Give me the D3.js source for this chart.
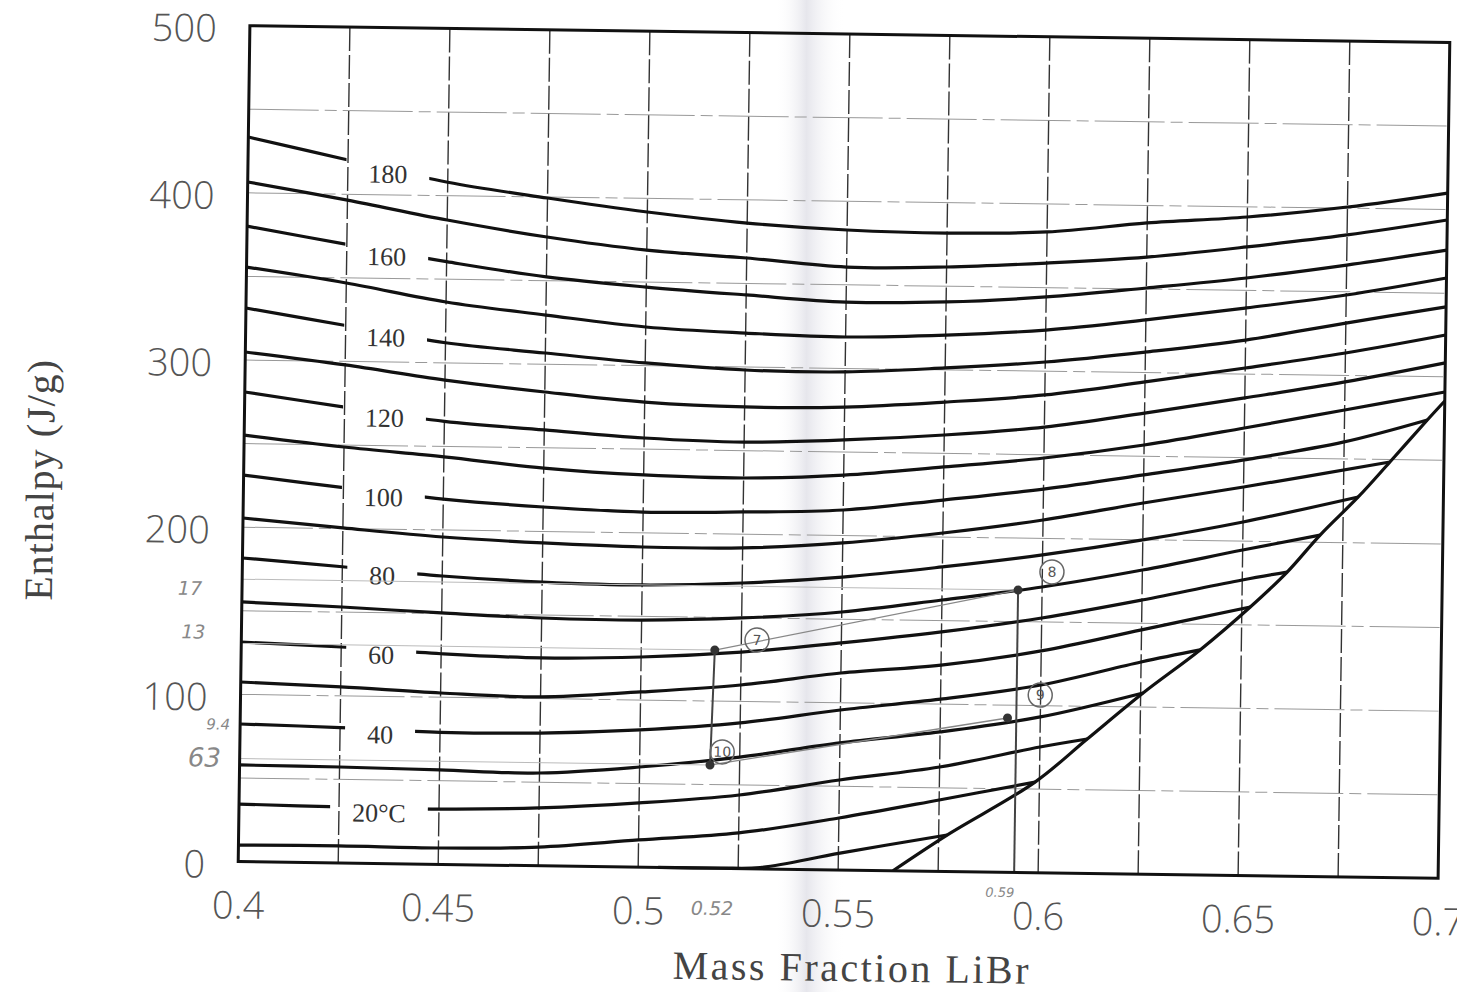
<!DOCTYPE html>
<html>
<head>
<meta charset="utf-8">
<script src="https://cdn.jsdelivr.net/npm/d3@7"></script>
<style>
  body { margin: 0; background: #fff; }
  svg { display: block; }
</style>
</head>
<body>
<div id="chart"></div>
<script>
// mass fraction grid (one value per vertical grid line)
const massFraction = [0.4, 0.425, 0.45, 0.475, 0.5, 0.525, 0.55, 0.575, 0.6, 0.625, 0.65, 0.675, 0.7];

// isotherms in degC, enthalpy J/g read at each mass fraction (null = past crystallization line)
const isoTemps = [180, 170, 160, 150, 140, 130, 120, 110, 100, 90, 80, 70, 60, 50, 40, 30, 20, 10];
const isoEnthalpy = [
  [433.4, 420.5, 408.0, 399.4, 391.9, 386.1, 382.8, 381.8, 383.3, 389.5, 393.9, 400.7, 409.9],
  [406.5, 396.5, 385.4, 376.1, 369.1, 365.2, 360.6, 361.5, 364.7, 369.1, 376.0, 384.0, 393.8],
  [380.1, 370.0, 360.5, 352.2, 347.0, 343.1, 339.7, 340.6, 344.4, 350.6, 357.4, 366.0, 375.8],
  [355.6, 346.9, 336.4, 329.4, 323.1, 320.3, 318.8, 320.8, 324.6, 331.5, 339.5, 348.1, 359.1],
  [331.1, 321.5, 312.0, 306.7, 301.6, 298.2, 297.9, 301.1, 305.5, 312.3, 320.3, 331.3, 341.8],
  [304.8, 297.9, 289.7, 283.4, 278.2, 276.1, 276.9, 280.7, 285.8, 294.4, 303.6, 313.4, 325.0],
  [280.9, 272.7, 265.0, 260.7, 256.7, 255.1, 257.2, 261.0, 266.6, 275.8, 285.7, 296.1, 308.3],
  [255.1, 248.8, 243.7, 237.9, 234.6, 233.6, 236.2, 241.9, 248.1, 256.7, 267.7, 279.3, 290.9],
  [231.2, 224.5, 218.5, 214.6, 212.4, 213.3, 215.3, 222.1, 229.5, 238.8, 248.6, 260.2, null],
  [205.5, 200.4, 195.8, 193.1, 191.5, 191.8, 195.6, 202.4, 211.0, 222.0, 232.4, null, null],
  [181.6, 177.2, 172.5, 169.7, 168.8, 170.8, 175.2, 182.1, 190.1, 199.9, 211.5, null, null],
  [155.3, 153.1, 150.4, 148.2, 147.8, 149.9, 154.3, 162.3, 170.9, 181.9, 194.7, null, null],
  [131.3, 129.2, 126.0, 124.3, 125.7, 129.5, 135.8, 143.2, 152.4, 164.0, 176.8, null, null],
  [107.4, 105.3, 102.5, 101.0, 104.8, 109.8, 117.8, 123.4, 132.7, 146.1, null, null, null],
  [82.3, 81.0, 79.0, 79.4, 82.1, 87.1, 95.7, 103.0, 112.3, 126.9, null, null, null],
  [57.8, 57.4, 56.5, 55.5, 59.9, 66.7, 76.0, 83.4, 93.2, null, null, null, null],
  [34.4, 33.5, 33.1, 34.6, 38.4, 44.0, 53.8, 62.4, 75.2, null, null, null, null],
  [9.9, 10.2, 9.8, 11.2, 16.3, 21.3, 31.1, 42.7, null, null, null, null, null]
];

// lowest isotherm (0 degC), rising off the axis
const zeroX = [0.505, 0.5205, 0.5305, 0.5504];
const zeroH = [0, 0.2, 0.8, 10.1];

// crystallization line; point k+1 is where the (10*k) degC isotherm ends
const crystalX = [0.5637, 0.5771, 0.5989, 0.6118, 0.6256, 0.6397, 0.6521, 0.6612, 0.6693, 0.6787, 0.6865, 0.6957, 0.7];
const crystalH = [0, 21.8, 54.2, 80.4, 108.4, 134.6, 160.7, 181.9, 204.3, 227.4, 248.6, 274.0, 285.5];

// labelled isotherms
const labelTemps = [180, 160, 140, 120, 100, 80, 60, 40, 20];
const labelTexts = ["180", "160", "140", "120", "100", "80", "60", "40", "20\u00B0C"];
const labelX = 0.435;

// axes
const xTicks = [0.4, 0.45, 0.5, 0.55, 0.6, 0.65, 0.7];
const yTicks = [0, 100, 200, 300, 400, 500];
const xGrid = [0.425, 0.45, 0.475, 0.5, 0.525, 0.55, 0.575, 0.6, 0.625, 0.65, 0.675];
const yGrid = [50, 100, 150, 200, 250, 300, 350, 400, 450];

// hand-drawn cycle points (7, 8, 9, 10) and notes
const pointX = [0.5184, 0.594, 0.5918, 0.5176];
const pointH = [130.5, 168.9, 92.3, 61.7];
const circleTexts = ["7", "8", "9", "10"];
const circleX = [0.5289, 0.6024, 0.5999, 0.5206];
const circleH = [136.8, 180.0, 106.3, 69.6];
const noteTexts = ["17", "13", "9.4", "63", "0.52", "0.59"];
const noteX = [0.387, 0.388, 0.3945, 0.3912, 0.5186, 0.5905];
const noteH = [163, 137, 82, 62, -24, -12];

// ---------------------------------------------------------------
const W = 1457, H = 992;
const margin = { top: 34, left: 244 };
const width = 1200, height = 836;
const tilt = 0.8;           // the scan is slightly rotated

const svg = d3.select("#chart").append("svg")
  .attr("width", W).attr("height", H);

// fold shadow of the scanned page
const defs = svg.append("defs");
const grad = defs.append("linearGradient").attr("id", "fold");
grad.append("stop").attr("offset", "0%").attr("stop-color", "#fff").attr("stop-opacity", 0);
grad.append("stop").attr("offset", "45%").attr("stop-color", "#e6e6ec");
grad.append("stop").attr("offset", "100%").attr("stop-color", "#fff").attr("stop-opacity", 0);
svg.append("rect").attr("x", 775).attr("y", 0).attr("width", 70).attr("height", H)
  .attr("fill", "url(#fold)");

const g = svg.append("g")
  .attr("transform", `rotate(${tilt},844,452) translate(${margin.left},${margin.top})`);

const x = d3.scaleLinear().domain([0.4, 0.7]).range([0, width]);
const y = d3.scaleLinear().domain([0, 500]).range([height, 0]);

// grid
g.append("g").selectAll("line").data(yGrid).join("line")
  .attr("x1", 0).attr("x2", width)
  .attr("y1", d => y(d)).attr("y2", d => y(d))
  .attr("stroke", "#999").attr("stroke-width", 1)
  .attr("stroke-dasharray", "70,6,12,6");

g.append("g").selectAll("line").data(xGrid).join("line")
  .attr("x1", d => x(d)).attr("x2", d => x(d))
  .attr("y1", 0).attr("y2", height)
  .attr("stroke", "#333").attr("stroke-width", 1.4)
  .attr("stroke-dasharray", "24,4");

// labels first so their width can size the gaps in the curves
const labelG = g.append("g");
const labelInfo = labelTemps.map((t, i) => {
  const row = isoEnthalpy[isoTemps.indexOf(t)];
  const f = (labelX - massFraction[1]) / (massFraction[2] - massFraction[1]);
  const h = row[1] + (row[2] - row[1]) * f;
  const txt = labelG.append("text")
    .attr("x", x(labelX)).attr("y", y(h) + 14)
    .attr("text-anchor", "middle")
    .attr("font-family", "Liberation Serif, serif")
    .attr("font-size", 26).attr("fill", "#333")
    .text(labelTexts[i]);
  return { t, w: txt.node().getComputedTextLength() };
});

labelInfo.forEach(d => {
  const m = defs.append("mask").attr("id", "gap" + d.t).attr("maskUnits", "userSpaceOnUse")
    .attr("x", -20).attr("y", -20).attr("width", width + 40).attr("height", height + 40);
  m.append("rect").attr("x", -20).attr("y", -20).attr("width", width + 40).attr("height", height + 40)
    .attr("fill", "#fff");
  m.append("rect").attr("x", x(labelX) - d.w / 2 - 22).attr("y", -20)
    .attr("width", d.w + 44).attr("height", height + 40).attr("fill", "#000");
});

// isotherms
const line = d3.line()
  .x(d => x(d[0])).y(d => y(d[1]))
  .curve(d3.curveCatmullRom.alpha(0.5));

const curveG = g.append("g").attr("fill", "none").attr("stroke", "#111").attr("stroke-width", 3.2);

isoTemps.forEach((t, i) => {
  const pts = [];
  massFraction.forEach((mf, j) => {
    if (isoEnthalpy[i][j] !== null) pts.push([mf, isoEnthalpy[i][j]]);
  });
  if (t <= 100) {
    const k = t / 10 + 1;
    pts.push([crystalX[k], crystalH[k]]);
  }
  const p = curveG.append("path").attr("d", line(pts));
  if (labelTemps.includes(t)) p.attr("mask", `url(#gap${t})`);
});

const zeroPts = zeroX.map((d, i) => [d, zeroH[i]]);
zeroPts.push([crystalX[1], crystalH[1]]);
curveG.append("path").attr("d", line(zeroPts));

curveG.append("path")
  .attr("d", line(crystalX.map((d, i) => [d, crystalH[i]])));

// pencil construction lines
const pencil = g.append("g").attr("fill", "none");
const P = i => [x(pointX[i]), y(pointH[i])];
[[0, 1], [3, 2]].forEach(([a, b]) => {
  pencil.append("line").attr("x1", P(a)[0]).attr("y1", P(a)[1]).attr("x2", P(b)[0]).attr("y2", P(b)[1])
    .attr("stroke", "#888").attr("stroke-width", 1.3);
});
[0, 1, 3].forEach(i => {
  pencil.append("line").attr("x1", x(0.4)).attr("y1", P(i)[1]).attr("x2", P(i)[0]).attr("y2", P(i)[1])
    .attr("stroke", "#bbb").attr("stroke-width", 1);
});
pencil.append("line").attr("x1", P(0)[0]).attr("y1", P(0)[1]).attr("x2", P(3)[0]).attr("y2", P(3)[1])
  .attr("stroke", "#444").attr("stroke-width", 2);
pencil.append("line").attr("x1", P(1)[0]).attr("y1", P(1)[1]).attr("x2", x(pointX[1])).attr("y2", y(0))
  .attr("stroke", "#444").attr("stroke-width", 2);
pencil.selectAll("circle.pt").data(pointX).join("circle")
  .attr("class", "pt")
  .attr("cx", d => x(d)).attr("cy", (d, i) => y(pointH[i]))
  .attr("r", 4.5).attr("fill", "#333");

const circ = g.append("g").selectAll("g").data(circleTexts).join("g")
  .attr("transform", (d, i) => `translate(${x(circleX[i])},${y(circleH[i])})`);
circ.append("circle").attr("r", 12).attr("fill", "none").attr("stroke", "#666").attr("stroke-width", 1.5);
circ.append("text").attr("text-anchor", "middle").attr("dy", "0.35em")
  .attr("font-family", "DejaVu Sans, sans-serif").attr("font-size", 14).attr("fill", "#555")
  .text(d => d);

// frame
g.append("rect").attr("x", 0).attr("y", 0).attr("width", width).attr("height", height)
  .attr("fill", "none").attr("stroke", "#111").attr("stroke-width", 3);

// axes
const yAxis = g.append("g")
  .call(d3.axisLeft(y).tickValues(yTicks).tickSize(0).tickPadding(33));
const xAxis = g.append("g").attr("transform", `translate(0,${height})`)
  .call(d3.axisBottom(x).tickValues(xTicks).tickSize(0).tickPadding(30).tickFormat(d3.format(".2~f")));
[yAxis, xAxis].forEach(a => {
  a.select(".domain").remove();
  a.selectAll("text")
    .attr("font-family", "Open Sans, DejaVu Sans, sans-serif")
    .attr("font-weight", 300)
    .attr("font-size", 38).attr("fill", "#555");
});
yAxis.selectAll("text").attr("dy", "0.42em");

g.append("text")
  .attr("transform", `translate(-190,${height / 2 + 39}) rotate(-90)`)
  .attr("text-anchor", "middle")
  .attr("font-family", "Liberation Serif, serif")
  .attr("font-size", 40).attr("letter-spacing", 1).attr("fill", "#444")
  .text("Enthalpy (J/g)");

g.append("text")
  .attr("x", 615).attr("y", height + 111)
  .attr("text-anchor", "middle")
  .attr("font-family", "Liberation Serif, serif")
  .attr("font-size", 40).attr("letter-spacing", 2.5).attr("fill", "#444")
  .text("Mass Fraction LiBr");

// handwritten notes
g.append("g").selectAll("text").data(noteTexts).join("text")
  .attr("x", (d, i) => x(noteX[i])).attr("y", (d, i) => y(noteH[i]))
  .attr("dy", "0.35em").attr("text-anchor", "middle")
  .attr("font-family", "DejaVu Sans, sans-serif").attr("font-style", "italic")
  .attr("font-size", (d, i) => i === 3 ? 26 : (i === 5 ? 13 : (i === 2 ? 15 : 19)))
  .attr("fill", "#888")
  .text(d => d);
</script>
</body>
</html>
